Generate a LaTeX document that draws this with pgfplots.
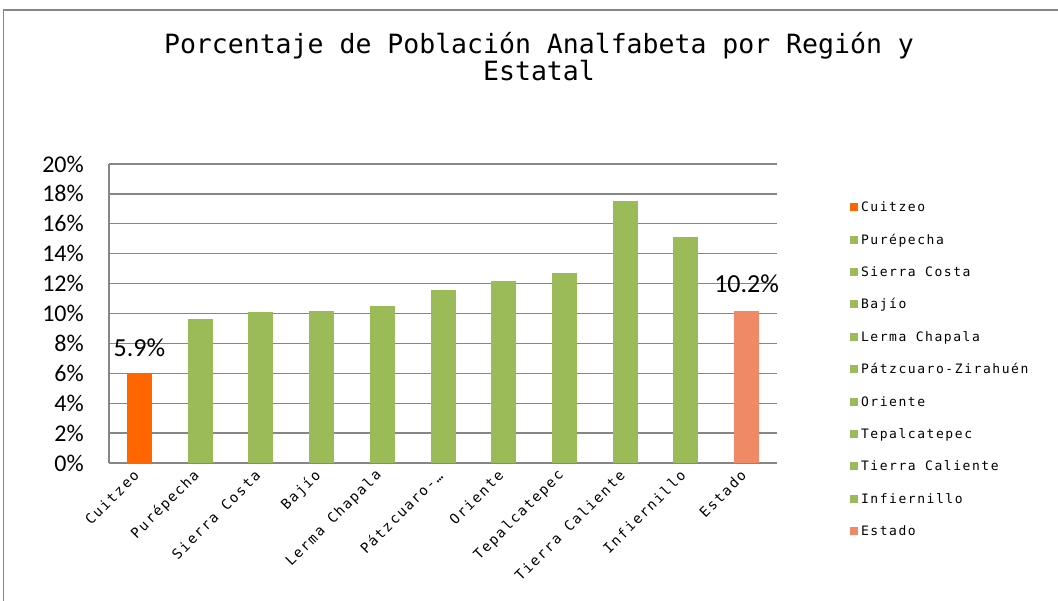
\documentclass[border=0pt]{standalone}
\usepackage{fontspec}
\usepackage{pgfplots}
\pgfplotsset{compat=1.18}
\setmainfont{DejaVu Sans Mono}
\newfontfamily\monof{DejaVu Sans Mono}
\newfontfamily\spacedmono[LetterSpace=12]{DejaVu Sans Mono}
\newfontfamily\carlito{Carlito}
\definecolor{cuitzeo}{RGB}{255,102,0}
\definecolor{region}{RGB}{155,187,89}
\definecolor{estado}{RGB}{240,137,102}
\definecolor{gridgray}{RGB}{134,134,134}

\pgfplotsset{
  onebar/.style={ybar, bar width=25bp, bar shift=0pt, draw=none, fill=#1},
  lbl/.style={nodes near coords={#1},
    nodes near coords style={font=\fontsize{26bp}{28bp}\selectfont\carlito,
      anchor=base, inner sep=0pt, yshift=18bp, text=black}},
}

\begin{document}
\begin{tikzpicture}
\path[use as bounding box] (0,0) rectangle (1058bp,601bp);
\draw[gridgray, line width=1.5bp] (3.5bp,0) -- (3.5bp,591bp) -- (1058bp,591bp);
\node[font=\fontsize{26.5bp}{27bp}\selectfont\monof, align=center] at (539bp,544bp)
  {Porcentaje de Población Analfabeta por Región y\\Estatal};
\begin{axis}[
  at={(109bp,138bp)}, anchor=south west,
  scale only axis, width=668bp, height=299bp,
  xmin=-0.5, xmax=10.5, ymin=0, ymax=20,
  xtick={0,...,10},
  xticklabels={Cuitzeo,Purépecha,Sierra Costa,Bajío,Lerma Chapala,Pátzcuaro-…,Oriente,Tepalcatepec,Tierra Caliente,Infiernillo,Estado},
  xticklabel style={font=\fontsize{14bp}{16bp}\selectfont\spacedmono,
    inner sep=0pt, yshift=-10bp, xshift=-3bp, rotate=45, anchor=east},
  ytick={0,2,...,20},
  yticklabel={\pgfmathprintnumber{\tick}\%},
  /pgf/number format/assume math mode=true,
  yticklabel style={font=\fontsize{24bp}{26bp}\selectfont\carlito,
    inner sep=0pt, anchor=east, xshift=-25bp},
  major tick length=0pt,
  axis x line*=bottom, axis y line*=left,
  axis line style={gridgray, line width=1.3bp},
  ymajorgrids, grid style={gridgray, line width=1.3bp},
  legend style={at={(axis description cs:1.1093,0.874)}, anchor=north west,
    draw=none, fill=none, inner sep=0pt, outer sep=0pt, row sep=19.4bp,
    font=\fontsize{13bp}{15bp}\selectfont\spacedmono,
    nodes={inner sep=0pt, text height=10bp, text depth=3bp},
    /tikz/every odd column/.append style={column sep=3bp}},
  legend cell align=left,
  legend image code/.code={\fill[#1] (0bp,-3bp) rectangle (8bp,5bp);},
]
\addplot[onebar=cuitzeo, lbl={5.9\%}] coordinates {(0,5.95)};
\addlegendentry{Cuitzeo}
\addplot[onebar=region] coordinates {(1,9.6)};
\addlegendentry{Purépecha}
\addplot[onebar=region] coordinates {(2,10.07)};
\addlegendentry{Sierra Costa}
\addplot[onebar=region] coordinates {(3,10.2)};
\addlegendentry{Bajío}
\addplot[onebar=region] coordinates {(4,10.47)};
\addlegendentry{Lerma Chapala}
\addplot[onebar=region] coordinates {(5,11.6)};
\addlegendentry{Pátzcuaro-Zirahuén}
\addplot[onebar=region] coordinates {(6,12.2)};
\addlegendentry{Oriente}
\addplot[onebar=region] coordinates {(7,12.73)};
\addlegendentry{Tepalcatepec}
\addplot[onebar=region] coordinates {(8,17.5)};
\addlegendentry{Tierra Caliente}
\addplot[onebar=region] coordinates {(9,15.1)};
\addlegendentry{Infiernillo}
\addplot[onebar=estado, lbl={10.2\%}] coordinates {(10,10.2)};
\addlegendentry{Estado}
\end{axis}
\end{tikzpicture}
\end{document}
